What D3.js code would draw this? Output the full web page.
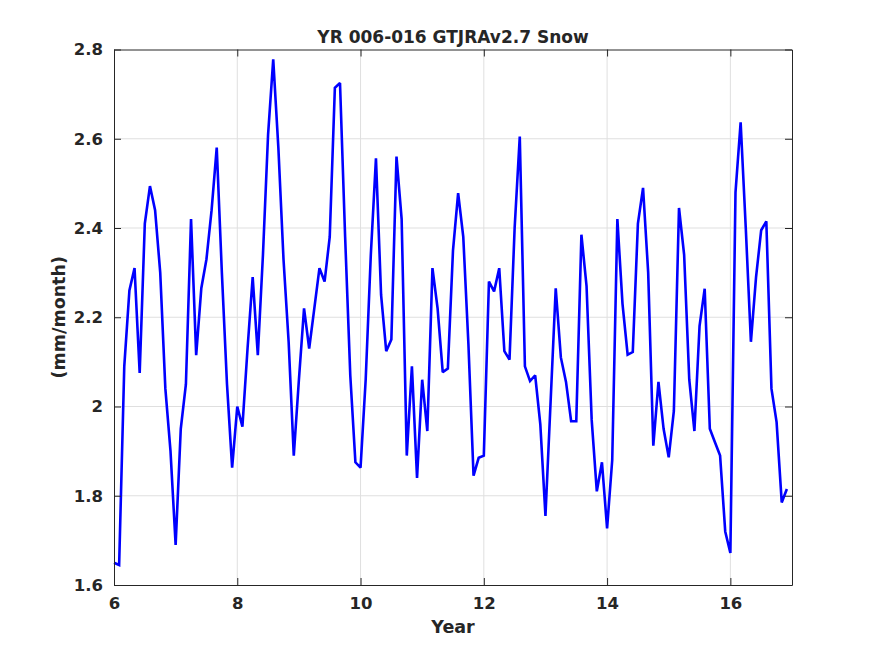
<!DOCTYPE html>
<html>
<head>
<meta charset="utf-8">
<script src="https://cdn.jsdelivr.net/npm/d3@7"></script>
<style>
  html, body { margin: 0; padding: 0; background: #fff; }
  svg { display: block; }
  text { font-family: "DejaVu Sans", sans-serif; font-weight: bold; fill: #262626; }
</style>
</head>
<body>
<script>
// ---- data (monthly values, starting at year 6.0) ----
const startYear = 6;
const snow = [
  1.650, 1.645, 2.090, 2.260, 2.310, 2.075, 2.410, 2.494, 2.440, 2.300, 2.040, 1.900,
  1.690, 1.950, 2.050, 2.420, 2.115, 2.265, 2.330, 2.440, 2.580, 2.300, 2.050, 1.863,
  2.000, 1.955, 2.130, 2.290, 2.115, 2.340, 2.610, 2.778, 2.580, 2.330, 2.145, 1.890,
  2.060, 2.220, 2.130, 2.220, 2.310, 2.280, 2.380, 2.714, 2.725, 2.380, 2.070, 1.875,
  1.863, 2.060, 2.340, 2.556, 2.250, 2.124, 2.150, 2.560, 2.420, 1.890, 2.090, 1.840,
  2.060, 1.945, 2.310, 2.220, 2.077, 2.085, 2.350, 2.478, 2.380, 2.140, 1.845, 1.885,
  1.890, 2.280, 2.258, 2.310, 2.124, 2.105, 2.400, 2.605, 2.090, 2.057, 2.070, 1.960,
  1.755, 2.010, 2.265, 2.110, 2.055, 1.967, 1.967, 2.385, 2.270, 1.970, 1.810, 1.875,
  1.727, 1.880, 2.420, 2.230, 2.116, 2.122, 2.410, 2.490, 2.300, 1.912, 2.055, 1.950,
  1.886, 1.990, 2.445, 2.340, 2.060, 1.945, 2.180, 2.264, 1.950, 1.920, 1.890, 1.720,
  1.672, 2.480, 2.637, 2.400, 2.145, 2.290, 2.395, 2.415, 2.040, 1.965, 1.785, 1.815
];
const xTicks = [6, 8, 10, 12, 14, 16];
const yTicks = [1.6, 1.8, 2.0, 2.2, 2.4, 2.6, 2.8];
const xDomain = [6, 17];
const yDomain = [1.6, 2.8];
const titleText = "YR 006-016 GTJRAv2.7 Snow";
const xLabelText = "Year";
const yLabelText = "(mm/month)";

// ---- layout ----
const W = 875, H = 656;
const L = 114, R = 792, T = 49.5, B = 585;

const svg = d3.select("body").append("svg").attr("width", W).attr("height", H);

const x = d3.scaleLinear().domain(xDomain).range([L, R]);
const y = d3.scaleLinear().domain(yDomain).range([B, T]);

const axisColor = "#262626";
const gridColor = "#dfdfdf";
const tickLen = 7;

// grid
const grid = svg.append("g");
grid.selectAll(".gx").data(xTicks.filter(d => d > xDomain[0] && d < xDomain[1])).enter()
  .append("line").attr("x1", d => x(d)).attr("x2", d => x(d)).attr("y1", T).attr("y2", B)
  .attr("stroke", gridColor).attr("stroke-width", 1);
grid.selectAll(".gy").data(yTicks.filter(d => d > yDomain[0] && d < yDomain[1])).enter()
  .append("line").attr("y1", d => y(d)).attr("y2", d => y(d)).attr("x1", L).attr("x2", R)
  .attr("stroke", gridColor).attr("stroke-width", 1);

// line
const dataPts = snow.map((v, i) => ({ t: startYear + i / 12, v }));
const line = d3.line().x(d => x(d.t)).y(d => y(d.v));
svg.append("path").datum(dataPts).attr("d", line)
  .attr("fill", "none").attr("stroke", "#0000ff").attr("stroke-width", 2.6)
  .attr("stroke-linejoin", "miter").attr("stroke-miterlimit", 2);

// axes (ticks inward, box on)
const fmtY = d => (Math.abs(d - 2) < 1e-9 ? "2" : d3.format(".1f")(d));
const xBottom = d3.axisBottom(x).tickValues(xTicks).tickSizeInner(-tickLen).tickSizeOuter(0).tickPadding(12).tickFormat(d3.format("d"));
const xTop = d3.axisTop(x).tickValues(xTicks).tickSizeInner(-tickLen).tickSizeOuter(0).tickFormat("");
const yLeft = d3.axisLeft(y).tickValues(yTicks).tickSizeInner(-tickLen).tickSizeOuter(0).tickPadding(11).tickFormat(fmtY);
const yRight = d3.axisRight(y).tickValues(yTicks).tickSizeInner(-tickLen).tickSizeOuter(0).tickFormat("");

function styleAxis(g) {
  g.selectAll("path").attr("stroke", axisColor).attr("stroke-width", 1);
  g.selectAll("line").attr("stroke", axisColor).attr("stroke-width", 1);
  g.selectAll("text").attr("fill", axisColor).style("font-size", "16.5px")
    .style("font-family", "DejaVu Sans, sans-serif").style("font-weight", "bold");
}
svg.append("g").attr("transform", `translate(0,${B})`).call(xBottom).call(styleAxis);
svg.append("g").attr("transform", `translate(0,${T})`).call(xTop).call(styleAxis);
svg.append("g").attr("transform", `translate(${L},0)`).call(yLeft).call(styleAxis);
svg.append("g").attr("transform", `translate(${R},0)`).call(yRight).call(styleAxis);

// titles
svg.append("text").attr("x", (L + R) / 2).attr("y", 42.5).attr("text-anchor", "middle")
  .style("font-size", "17px").text(titleText);
svg.append("text").attr("x", (L + R) / 2).attr("y", 633).attr("text-anchor", "middle")
  .style("font-size", "17.5px").text(xLabelText);
svg.append("text").attr("transform", `translate(65,${(T + B) / 2}) rotate(-90)`)
  .attr("text-anchor", "middle").style("font-size", "17.5px").text(yLabelText);
</script>
</body>
</html>
